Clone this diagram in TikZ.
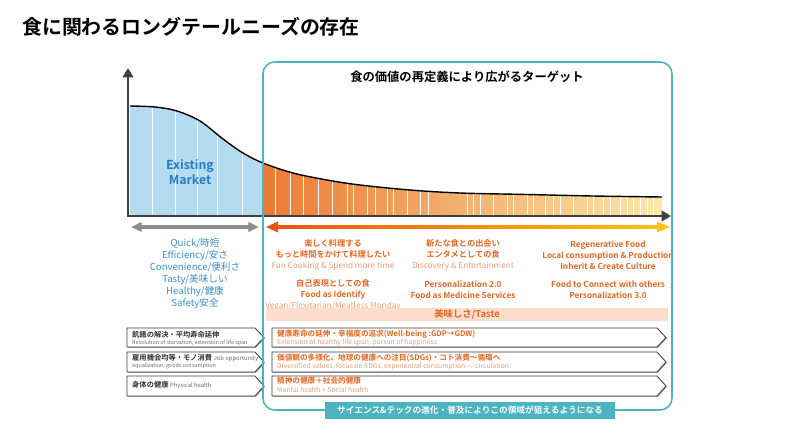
\documentclass[tikz,border=0pt]{standalone}
\usepackage{fontspec}
\setmainfont{Noto Sans CJK JP}[BoldFont={Noto Sans CJK JP Bold}]
\usetikzlibrary{arrows.meta, shadows}
\definecolor{axisdark}{HTML}{404040}
\definecolor{spangray}{HTML}{8C8C8C}
\definecolor{mktfill}{HTML}{B4DCF0}
\definecolor{mkttext}{HTML}{2A7BC4}
\definecolor{listtext}{HTML}{3B8ECB}
\definecolor{tailleft}{HTML}{EC7A34}
\definecolor{tailmid}{HTML}{F9C8B9}
\definecolor{tailright}{HTML}{FCE7AA}
\definecolor{spanleft}{HTML}{EA5516}
\definecolor{spanright}{HTML}{FFC20E}
\definecolor{tgtedge}{HTML}{4BB4C0}
\definecolor{tgttext}{HTML}{E9661F}
\definecolor{tgtsub}{HTML}{F09F76}
\definecolor{tastefill}{HTML}{FCDDCC}
\definecolor{rowedge}{HTML}{3C3C3C}
\definecolor{rowtext}{HTML}{333333}
\definecolor{rowgray}{HTML}{6A6A6A}
\newcommand{\subline}[1]{{\mdseries\color{tgtsub}#1}}

\begin{document}
\begin{tikzpicture}[
  x=0.03cm, y=-0.03cm,
  heading/.style={anchor=west, inner sep=0pt, font=\fontsize{17}{20}\selectfont\bfseries},
  boxtitle/.style={inner sep=0pt, font=\fontsize{10.5}{12}\selectfont\bfseries},
  mkt/.style={align=center, inner sep=0pt, text=mkttext, font=\fontsize{10.5}{12.5}\selectfont\bfseries},
  basiclist/.style={align=center, inner sep=0pt, text=listtext, font=\fontsize{8.2}{10.3}\selectfont},
  tgt/.style={align=center, inner sep=0pt, text=tgttext, font=\fontsize{7}{9.4}\selectfont\bfseries},
  taste/.style={inner sep=0pt, text=tgttext, font=\fontsize{8}{9}\selectfont\bfseries},
  rowmain/.style={anchor=west, inner sep=0pt, text=rowtext, font=\fontsize{6.2}{7}\selectfont\bfseries},
  rowsmall/.style={anchor=west, inner sep=0pt, text=rowgray, font=\fontsize{4.6}{5.5}\selectfont},
  needmain/.style={anchor=west, inner sep=0pt, text=tgttext, font=\fontsize{6.5}{7.5}\selectfont\bfseries},
  needsmall/.style={anchor=west, inner sep=0pt, text=tgtsub, font=\fontsize{5.8}{7}\selectfont},
  rowbox/.style={draw=rowedge, fill=white, line width=0.7pt,
                 drop shadow={shadow xshift=0.8pt, shadow yshift=-0.8pt, fill=black!35, opacity=1}},
  banner/.style={inner sep=0pt, text=white, font=\fontsize{7.4}{9}\selectfont\bfseries},
  axisline/.style={draw=axisdark, line width=2.4pt, -{Triangle[length=8pt, width=9pt]}},
  spanline/.style={draw=spangray, line width=3pt, {Triangle[length=9pt, width=8pt]}-{Triangle[length=9pt, width=8pt]}},
]
\useasboundingbox (0,0) rectangle (800,436);
% ================= title ====================================================
\node[heading] (heading) at (22,27) {食に関わるロングテールニーズの存在};
% ================= long tail area ===========================================
\begin{scope}
  \clip (130,216) -- plot[smooth, tension=0.55] coordinates {(130,106) (155,107) (177,111) (200,121) (223,139) (243,153) (263,163) (293,173) (327,180) (360,185) (410,190) (460,193) (527,194.5) (593,196) (662,197)} -- (662,216) -- cycle;
  \fill[mktfill] (128,90) rectangle (263,216);
  \shade[left color=tailleft, middle color=tailmid, right color=tailright] (263,90) rectangle (662,216);
  \foreach \x in {152,175,197,217,242}
    \draw[white, line width=0.6pt] (\x,90) -- (\x,216);
  \foreach \x in {275,290,303,318,332,347,353,367,375,387,393,407,420,428,467,473,480,493,507,513,527,533,545,553,560,573,587,593,603,610,620,627,633,640,647,653}
    \draw[white, line width=0.5pt] (\x,90) -- (\x,216);
\end{scope}
\draw[black, line width=1.2pt] plot[smooth, tension=0.55] coordinates {(130,106) (155,107) (177,111) (200,121) (223,139) (243,153) (263,163) (293,173) (327,180) (360,185) (410,190) (460,193) (527,194.5) (593,196) (662,197)};
% axes
\coordinate (origin) at (128,216);
\coordinate (ytip) at (128,68);
\coordinate (xtip) at (671,216);
\draw[axisline] ([yshift=1.2pt]origin) -- (ytip);
\draw[axisline] ([xshift=-1.2pt]origin) -- (xtip);
% span arrows
\coordinate (mktleft) at (131,227);
\coordinate (mktright) at (259,227);
\draw[spanline] (mktleft) -- (mktright);
\shade[left color=spanleft, right color=spanright] (276,225.2) rectangle (659,228.8);
\fill[spanleft] (266,227) -- (278,221.5) -- (278,232.5) -- cycle;
\fill[spanright] (670,227) -- (657,221.5) -- (657,232.5) -- cycle;
% ================= existing market ==========================================
\node[mkt] (existing) at (190,172) {Existing\\Market};
\node[basiclist] (basics) at (195,273.5) {Quick/時短\\Efficiency/安さ\\Convenience/便利さ\\Tasty/美味しい\\Healthy/健康\\Safety安全};
% ================= new targets ==============================================
\node[tgt] (cooking) at (333,255) {楽しく料理する\\もっと時間をかけて料理したい\\\subline{Fun Cooking \& Spend more time}};
\node[tgt] (discovery) at (463,255) {新たな食との出会い\\エンタメとしての食\\\subline{Discovery \& Entertainment}};
\node[tgt] (regen) at (608,255) {Regenerative Food\\Local consumption \& Production\\Inherit \& Create Culture};
\node[tgt] (identity) at (333,295) {自己表現としての食\\Food as Identify\\\subline{Vegan/Flexitarian/Meatless Monday}};
\node[tgt] (personal) at (463,289.5) {Personalization 2.0\\Food as Medicine Services};
\node[tgt] (connect) at (608,289.5) {Food to Connect with others\\Personalization 3.0};
\fill[tastefill] (266,308) rectangle (668,321);
\node[taste] (tastelabel) at (467,314.5) {美味しさ/Taste};
% ================= needs rows ===============================================
\foreach \top/\bot in {328/347, 352/372, 376/396} {
  \pgfmathsetmacro\mid{(\top+\bot)/2}
  \draw[rowbox] (127,\top) -- (255,\top) -- (264,\mid) -- (255,\bot) -- (127,\bot) -- cycle;
  \draw[rowbox] (272,\top) -- (657,\top) -- (666,\mid) -- (657,\bot) -- (272,\bot) -- cycle;
}
\node[rowmain] (oldneed1) at (132,334.5) {飢餓の解決・平均寿命延伸};
\node[rowsmall] (oldsub1) at (132,342.5) {Resolution of starvation, extension of life span};
\node[rowmain] (oldneed2) at (132,358) {雇用機会均等・モノ消費 {\mdseries\color{rowgray}\fontsize{5}{6}\selectfont Job opportunity}};
\node[rowsmall] (oldsub2) at (132,366.5) {equalization, goods consumption};
\node[rowmain] (oldneed3) at (132,385.5) {身体の健康 {\mdseries\color{rowgray}\fontsize{5}{6}\selectfont Physical health}};
\node[needmain] (newneed1) at (277,334) {健康寿命の延伸・幸福度の追求(Well-being :GDP→GDW)};
\node[needsmall] (newsub1) at (277,342.5) {Extension of healthy life span, pursuit of happiness};
\node[needmain] (newneed2) at (277,358) {価値観の多様化、地球の健康への注目(SDGs)・コト消費〜循環へ};
\node[needsmall] (newsub2) at (277,366.5) {Diversified values, focus on SDGs, experiential consumption $\sim$ circulation};
\node[needmain] (newneed3) at (277,381) {精神の健康＋社会的健康};
\node[needsmall] (newsub3) at (277,389.5) {Mental health + Social health};
% ================= target frame =============================================
\draw[tgtedge, line width=1.3pt, rounded corners=10pt] (263,62) rectangle (672,410);
\node[boxtitle] (frametitle) at (467,77) {食の価値の再定義により広がるターゲット};
\fill[tgtedge] (325,402) rectangle (615,419);
\node[banner] (science) at (470,410.5) {サイエンス\&テックの進化・普及によりこの領域が狙えるようになる};
\end{tikzpicture}
\end{document}
